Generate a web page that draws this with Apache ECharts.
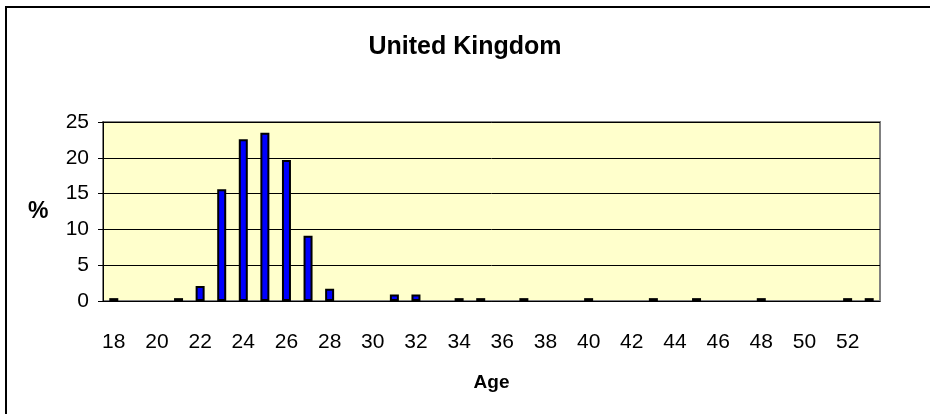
<!DOCTYPE html>
<html>
<head>
<meta charset="utf-8">
<script src="https://cdn.jsdelivr.net/npm/echarts@6/dist/echarts.min.js"></script>
<style>
  html, body {margin: 0; padding: 0; background: #fff;}
  #ukChart {width: 930px; height: 414px;}
</style>
</head>
<body>
<div id="ukChart"></div>
<script>
// ages 18..53
var ages = ['18','19','20','21','22','23','24','25','26','27','28','29','30','31','32','33','34','35',
            '36','37','38','39','40','41','42','43','44','45','46','47','48','49','50','51','52','53'];
var percent = [0.4, 0, 0, 0.4, 2.1, 15.6, 22.6, 23.5, 19.7, 9.1, 1.7, 0, 0, 0.9, 0.9, 0, 0.4, 0.4,
               0, 0.4, 0, 0, 0.4, 0, 0, 0.4, 0, 0.4, 0, 0, 0.4, 0, 0, 0, 0.4, 0.4];
var yTicks = [0, 5, 10, 15, 20, 25];

var font = 'Arial, "Liberation Sans", sans-serif';

var chart = echarts.init(document.getElementById('ukChart'));
chart.setOption({
  animation: false,
  title: {
    text: 'United Kingdom',
    left: 'center',
    top: 30,
    textStyle: {fontFamily: font, fontSize: 25, fontWeight: 'bold', color: '#000'}
  },
  graphic: [
    // outer frame (runs off the right and bottom edge)
    {type: 'rect', shape: {x: 6, y: 7, width: 1000, height: 1000},
     style: {fill: 'none', stroke: '#000', lineWidth: 2}, silent: true},
    {type: 'text', left: 28, top: 200,
     style: {text: '%', font: 'bold 23px ' + font, fill: '#000'}}
  ],
  grid: {
    left: 103, right: 50, top: 122, bottom: 113,
    show: true, backgroundColor: '#FFFFCC', borderColor: '#808080', borderWidth: 2
  },
  xAxis: {
    type: 'category',
    data: ages,
    name: 'Age',
    nameLocation: 'middle',
    nameGap: 72,
    nameTextStyle: {fontFamily: font, fontSize: 19, fontWeight: 'bold', color: '#000'},
    axisLine: {lineStyle: {color: '#000', width: 1}},
    axisTick: {interval: 0, length: 5, lineStyle: {color: '#000'}},
    axisLabel: {interval: 1, margin: 31, fontFamily: font, fontSize: 21, color: '#000'}
  },
  yAxis: {
    type: 'value',
    min: yTicks[0],
    max: yTicks[yTicks.length - 1],
    interval: 5,
    axisLine: {show: true, lineStyle: {color: '#000', width: 1}},
    axisTick: {show: true, length: 5, lineStyle: {color: '#000'}},
    axisLabel: {margin: 14, fontFamily: font, fontSize: 21, color: '#000'},
    splitLine: {lineStyle: {color: '#000', width: 1}}
  },
  series: [{
    type: 'bar',
    // empty ages draw no bar at all
    data: percent.map(function (v) { return v === 0 ? '-' : v; }),
    barWidth: 9,
    itemStyle: {color: '#0000FF', borderColor: '#000', borderWidth: 2}
  }]
});
</script>
</body>
</html>
